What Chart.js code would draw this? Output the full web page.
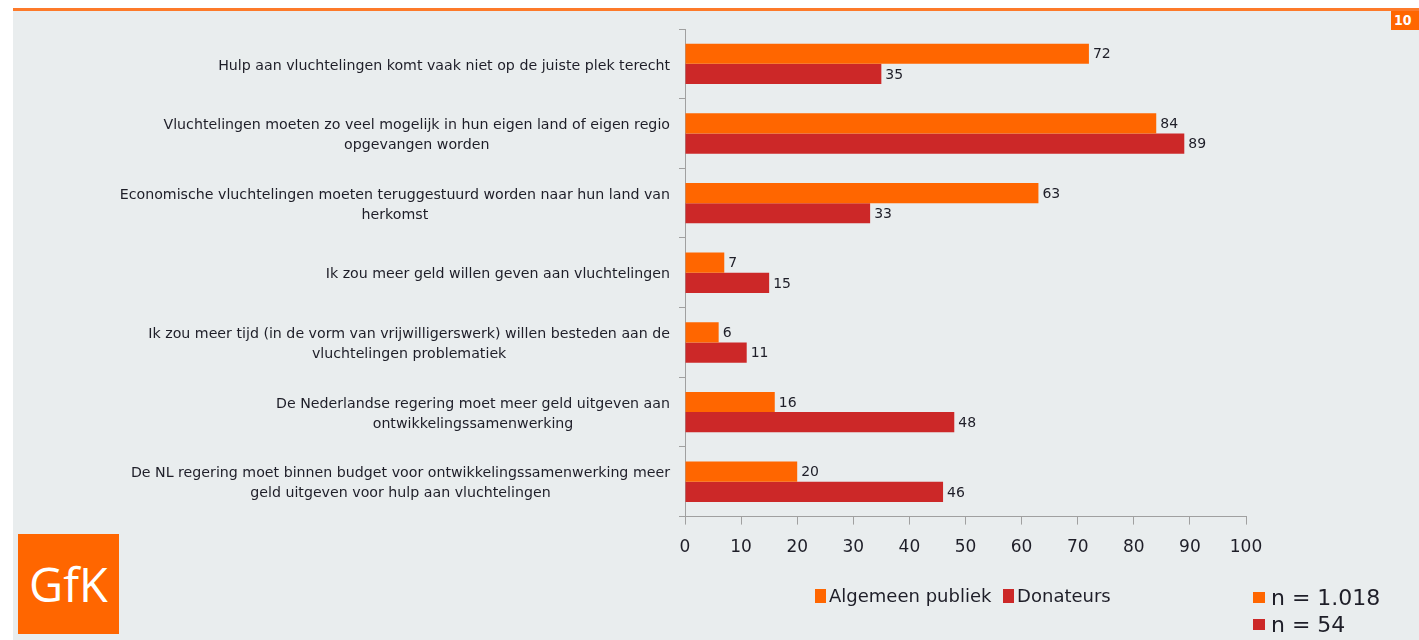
<!DOCTYPE html>
<html>
<head>
<meta charset="utf-8">
<script src="https://cdn.jsdelivr.net/npm/chart.js@4.4.1/dist/chart.umd.min.js"></script>
<style>
  html, body { margin: 0; padding: 0; background: #fff; }
  body { width: 1419px; height: 640px; position: relative; overflow: hidden;
         font-family: "DejaVu Sans", sans-serif; color: #1e1e28; }
  #panel { position: absolute; left: 13px; top: 11px; right: 0; bottom: 0; background: #e9edee; }
  #topline { position: absolute; left: 13px; top: 8px; right: 0; height: 3px; background: #fd7a2a; }
  #page { position: absolute; left: 1391px; top: 11px; width: 40px; height: 19px; background: #ff6600;
          color: #fff; font: bold 14px "DejaVu Sans Condensed", sans-serif; line-height: 19px; padding-left: 3px; }
  #wrap { position: absolute; left: 0; top: 0; width: 1419px; height: 640px; }
  #logo { position: absolute; left: 18px; top: 534px; width: 101px; height: 100px; background: #ff6600;
          color: #fff; font: 47px "Open Sans", sans-serif; line-height: 100px; text-align: center; }
  .leg { position: absolute; font-size: 18px; white-space: nowrap; }
  .sq { display: inline-block; width: 11px; height: 14px; margin-right: 3px; vertical-align: -1px; }
  .leg .sq + .sq, .leg .gap { margin-left: 6px; }
  .nleg { position: absolute; left: 1253px; font-size: 22px; white-space: nowrap; }
  .nleg .sq { width: 12px; height: 11px; margin-right: 6px; vertical-align: 2px; }
</style>
</head>
<body>
<div id="panel"></div>
<div id="topline"></div>
<div id="page">10</div>
<div id="logo">GfK</div>
<div id="wrap"><canvas id="chart" width="1419" height="640"></canvas></div>
<div class="leg" id="legend" style="left:815px; top:585px;"></div>
<div class="nleg" id="n0" style="top:585px;"></div>
<div class="nleg" id="n1" style="top:612px;"></div>
<script>
const categories = [
  ['Hulp aan vluchtelingen komt vaak niet op de juiste plek terecht'],
  ['Vluchtelingen moeten zo veel mogelijk in hun eigen land of eigen regio', 'opgevangen worden'],
  ['Economische vluchtelingen moeten teruggestuurd worden naar hun land van', 'herkomst'],
  ['Ik zou meer geld willen geven aan vluchtelingen'],
  ['Ik zou meer tijd (in de vorm van vrijwilligerswerk) willen besteden aan de', 'vluchtelingen problematiek'],
  ['De Nederlandse regering moet meer geld uitgeven aan', 'ontwikkelingssamenwerking'],
  ['De NL regering moet binnen budget voor ontwikkelingssamenwerking meer', 'geld uitgeven voor hulp aan vluchtelingen']
];
const seriesNames = ['Algemeen publiek', 'Donateurs'];
const publiek = [72, 84, 63, 7, 6, 16, 20];
const donateurs = [35, 89, 33, 15, 11, 48, 46];
const xTicks = [0, 10, 20, 30, 40, 50, 60, 70, 80, 90, 100];
const sampleSizes = ['n = 1.018', 'n = 54'];
const colors = ['#ff6600', '#cc2828'];

const FONT = '"DejaVu Sans", sans-serif';

// legends as html
document.getElementById('legend').innerHTML = seriesNames.map(function (s, i) {
  return '<span class="sq' + (i ? ' gap' : '') + '" style="background:' + colors[i] + '"></span>' + s;
}).join(' ');
sampleSizes.forEach(function (s, i) {
  document.getElementById('n' + i).innerHTML = '<span class="sq" style="background:' + colors[i] + '"></span>' + s;
});

// category labels: block right aligned, lines centered
const catLabels = {
  id: 'catLabels',
  afterDraw: function (chart) {
    const ctx = chart.ctx;
    const y = chart.scales.y;
    ctx.save();
    ctx.font = '14.2px ' + FONT;
    ctx.fillStyle = '#1e1e28';
    ctx.textAlign = 'center';
    ctx.textBaseline = 'middle';
    categories.forEach(function (lines, i) {
      const cy = y.getPixelForValue(i) + 2;
      let maxW = 0;
      lines.forEach(function (l) { maxW = Math.max(maxW, ctx.measureText(l).width); });
      const cx = 670 - maxW / 2;
      lines.forEach(function (l, j) {
        ctx.fillText(l, cx, cy + (j - (lines.length - 1) / 2) * 20);
      });
    });
    ctx.restore();
  }
};

// value labels at bar ends
const valueLabels = {
  id: 'valueLabels',
  afterDatasetsDraw: function (chart) {
    const ctx = chart.ctx;
    ctx.save();
    ctx.font = '14px ' + FONT;
    ctx.fillStyle = '#1e1e28';
    ctx.textAlign = 'left';
    ctx.textBaseline = 'middle';
    chart.data.datasets.forEach(function (ds, d) {
      chart.getDatasetMeta(d).data.forEach(function (bar, i) {
        ctx.fillText(String(ds.data[i]), bar.x + 4, bar.y + 1);
      });
    });
    ctx.restore();
  }
};

new Chart(document.getElementById('chart'), {
  type: 'bar',
  data: {
    labels: categories,
    datasets: [
      { label: seriesNames[0], data: publiek, backgroundColor: colors[0] },
      { label: seriesNames[1], data: donateurs, backgroundColor: colors[1] }
    ]
  },
  options: {
    indexAxis: 'y',
    responsive: false,
    animation: false,
    categoryPercentage: 0.58,
    barPercentage: 1.0,
    layout: { padding: { left: 679, right: 173, top: 29, bottom: 69 } },
    plugins: { legend: { display: false }, tooltip: { enabled: false } },
    scales: {
      x: {
        min: 0, max: 100,
        afterBuildTicks: function (axis) { axis.ticks = xTicks.map(function (v) { return { value: v }; }); },
        grid: { drawOnChartArea: false, tickLength: 8, color: '#a0a0a0' },
        border: { color: '#a0a0a0' },
        ticks: { color: '#1e1e28', font: { family: FONT, size: 17 }, padding: 13 }
      },
      y: {
        grid: { drawOnChartArea: false, tickLength: 6, color: '#a0a0a0', offset: true },
        border: { color: '#a0a0a0' },
        ticks: { display: false }
      }
    }
  },
  plugins: [catLabels, valueLabels]
});
</script>
</body>
</html>
